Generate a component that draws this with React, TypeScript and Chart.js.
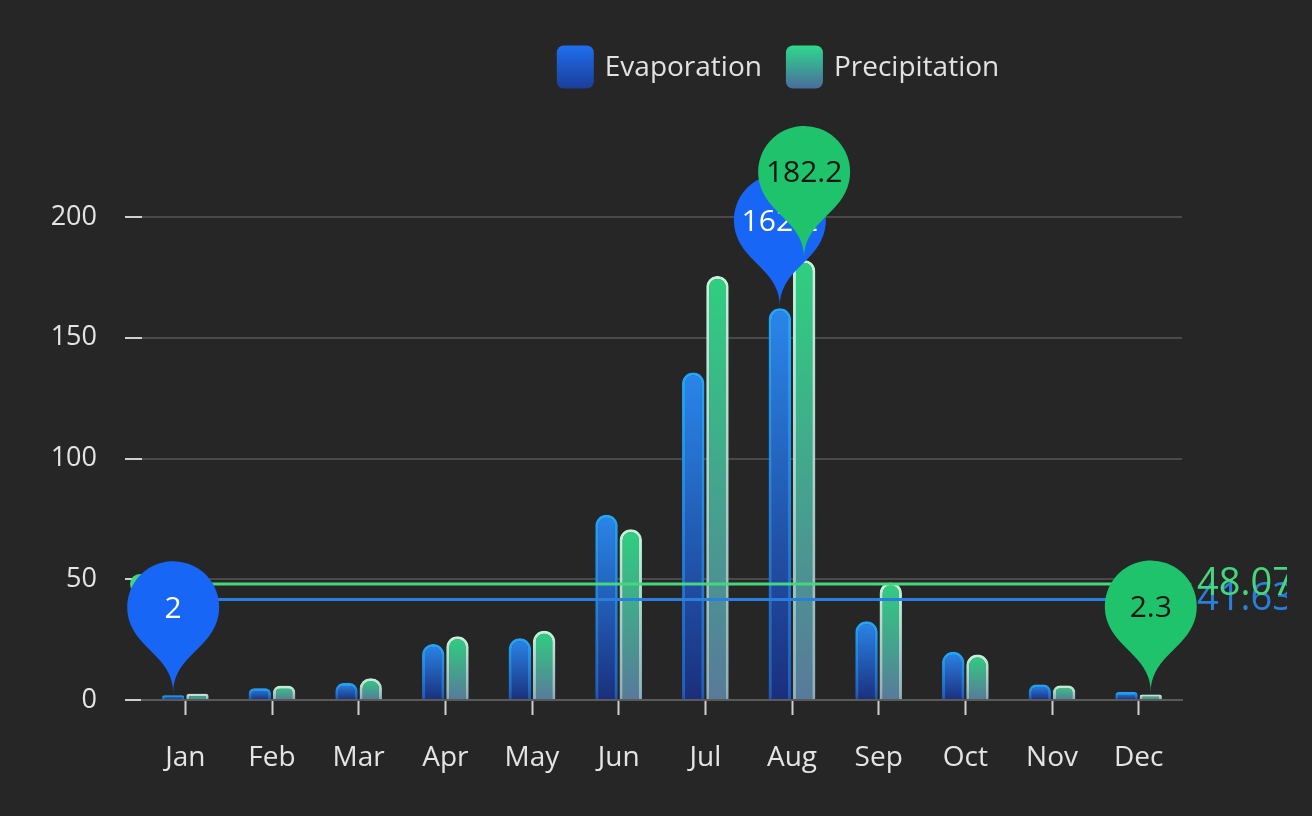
import { useEffect, useRef } from 'react';
import { Chart, registerables } from 'chart.js';

Chart.register(...registerables);

const months = ['Jan', 'Feb', 'Mar', 'Apr', 'May', 'Jun', 'Jul', 'Aug', 'Sep', 'Oct', 'Nov', 'Dec'];
const evaporation = [2.0, 4.9, 7.0, 23.2, 25.6, 76.7, 135.6, 162.2, 32.6, 20.0, 6.4, 3.3];
const precipitation = [2.6, 5.9, 9.0, 26.4, 28.7, 70.7, 175.6, 182.2, 48.7, 18.8, 6.0, 2.3];
const seriesNames = ['Evaporation', 'Precipitation'];
const yMin = 0;
const yMax = 200;
const yStep = 50;

const FONT = '"Open Sans", "Noto Sans", "DejaVu Sans", sans-serif';
const WIDTH = 1312;
const HEIGHT = 816;

type Style = {
  top: string;
  bottom: string;
  borderTop: string;
  borderBottom: string;
  glow: string;
  pin: string;
  pinText: string;
  line: string;
  legendTop: string;
  legendBottom: string;
};

const styles: Style[] = [
  {
    top: '#2a86ea',
    bottom: '#1b2f7c',
    borderTop: '#22aaf8',
    borderBottom: '#1d4aa6',
    glow: 'rgba(40,150,255,0.6)',
    pin: '#1766f5',
    pinText: '#ffffff',
    line: '#2a7fdc',
    legendTop: '#1f6ff0',
    legendBottom: '#1c3d98',
  },
  {
    top: '#2fcf80',
    bottom: '#587a9a',
    borderTop: '#c9f3dc',
    borderBottom: '#8aa0b4',
    glow: 'rgba(170,240,205,0.5)',
    pin: '#1ec36b',
    pinText: '#141414',
    line: '#45d67e',
    legendTop: '#2fd88c',
    legendBottom: '#4a6c9c',
  },
];

// Vertical gradient spanning each bar from its top to the baseline.
function barGradient(from: string, to: string) {
  return (c: any) => {
    const chart = c.chart;
    if (!chart.chartArea || c.type !== 'data' || !chart.scales?.y) return from;
    const y = chart.scales.y;
    const top = y.getPixelForValue(c.raw as number);
    const base = y.getPixelForValue(0);
    if (base - top < 1) return from;
    const g = chart.ctx.createLinearGradient(0, top, 0, base);
    g.addColorStop(0, from);
    g.addColorStop(1, to);
    return g;
  };
}

// ECharts-style "pin" marker: a circle tapering to a point at (x, tipY).
function drawPin(ctx: CanvasRenderingContext2D, x: number, tipY: number, r: number, h: number) {
  const dy = (r * r) / (h - r);
  const cy = tipY - h + r + dy;
  const angle = Math.asin(dy / r);
  const dx = Math.cos(angle) * r;
  const tanX = Math.sin(angle);
  const tanY = Math.cos(angle);
  const cpLen = r * 0.6;
  const cpLen2 = r * 0.7;
  ctx.beginPath();
  ctx.moveTo(x - dx, cy + dy);
  ctx.arc(x, cy, r, Math.PI - angle, Math.PI * 2 + angle);
  ctx.bezierCurveTo(x + dx - tanX * cpLen, cy + dy + tanY * cpLen, x, tipY - cpLen2, x, tipY);
  ctx.bezierCurveTo(x, tipY - cpLen2, x - dx + tanX * cpLen, cy + dy + tanY * cpLen, x - dx, cy + dy);
  ctx.closePath();
  ctx.fill();
  return cy;
}

const glowPlugin = {
  id: 'barGlow',
  beforeDatasetDraw(chart: any, args: any) {
    const ctx = chart.ctx;
    ctx.save();
    ctx.shadowColor = styles[args.index].glow;
    ctx.shadowBlur = 12;
  },
  afterDatasetDraw(chart: any) {
    chart.ctx.restore();
  },
};

const markPlugin = {
  id: 'marks',
  afterDatasetsDraw(chart: any) {
    const ctx: CanvasRenderingContext2D = chart.ctx;
    const area = chart.chartArea;
    const yScale = chart.scales.y;
    const seriesData = [evaporation, precipitation];

    // Average lines with start circle, end arrow and value label.
    seriesData.forEach((data, i) => {
      const s = styles[i];
      const avg = data.reduce((a, b) => a + b, 0) / data.length;
      const y = yScale.getPixelForValue(avg);
      ctx.save();
      ctx.strokeStyle = s.line;
      ctx.fillStyle = s.line;
      ctx.lineWidth = 3;
      ctx.beginPath();
      ctx.moveTo(area.left, y);
      ctx.lineTo(area.right, y);
      ctx.stroke();
      ctx.beginPath();
      ctx.arc(area.left - 2, y, 10, 0, Math.PI * 2);
      ctx.fill();
      ctx.beginPath();
      ctx.moveTo(area.right + 10, y);
      ctx.lineTo(area.right - 8, y - 8);
      ctx.lineTo(area.right - 8, y + 8);
      ctx.closePath();
      ctx.fill();
      ctx.beginPath();
      ctx.rect(0, 0, area.right + 105, chart.height);
      ctx.clip();
      ctx.font = `38px ${FONT}`;
      ctx.textAlign = 'left';
      ctx.textBaseline = 'middle';
      ctx.fillText(avg.toFixed(2), area.right + 15, y);
      ctx.restore();
    });

    // Max / min pins for each series.
    seriesData.forEach((data, i) => {
      const s = styles[i];
      const meta = chart.getDatasetMeta(i);
      const maxIdx = data.indexOf(Math.max(...data));
      const minIdx = data.indexOf(Math.min(...data));
      [maxIdx, minIdx].forEach((idx) => {
        const bar = meta.data[idx];
        ctx.save();
        ctx.fillStyle = s.pin;
        const cy = drawPin(ctx, bar.x, bar.y - 2, 46, 152);
        ctx.fillStyle = s.pinText;
        ctx.font = `30px ${FONT}`;
        ctx.textAlign = 'center';
        ctx.textBaseline = 'middle';
        ctx.fillText(String(data[idx]), bar.x, cy + 2);
        ctx.restore();
      });
    });
  },
};

const legendPlugin = {
  id: 'topLegend',
  afterDraw(chart: any) {
    const ctx: CanvasRenderingContext2D = chart.ctx;
    const boxW = 37;
    const boxH = 43;
    const textGap = 11;
    const itemGap = 24;
    const centerX = 778;
    const centerY = 67;
    ctx.save();
    ctx.font = `28px ${FONT}`;
    const widths = seriesNames.map((n) => boxW + textGap + ctx.measureText(n).width);
    const total = widths.reduce((a, b) => a + b, 0) + itemGap * (seriesNames.length - 1);
    let x = centerX - total / 2;
    seriesNames.forEach((name, i) => {
      const s = styles[i];
      const top = centerY - boxH / 2;
      const g = ctx.createLinearGradient(0, top, 0, top + boxH);
      g.addColorStop(0, s.legendTop);
      g.addColorStop(1, s.legendBottom);
      ctx.fillStyle = g;
      ctx.beginPath();
      ctx.roundRect(x, top, boxW, boxH, 7);
      ctx.fill();
      ctx.fillStyle = '#e2e2e2';
      ctx.textAlign = 'left';
      ctx.textBaseline = 'middle';
      ctx.fillText(name, x + boxW + textGap, centerY + 1);
      x += widths[i] + itemGap;
    });
    ctx.restore();
  },
};

export default function App() {
  const canvasRef = useRef<HTMLCanvasElement | null>(null);

  useEffect(() => {
    if (!canvasRef.current) return;
    const chart = new Chart(canvasRef.current, {
      type: 'bar',
      data: {
        labels: months,
        datasets: [evaporation, precipitation].map((data, i) => ({
          label: seriesNames[i],
          data,
          backgroundColor: barGradient(styles[i].top, styles[i].bottom),
          borderColor: barGradient(styles[i].borderTop, styles[i].borderBottom),
          borderWidth: 3,
          borderSkipped: 'bottom',
          borderRadius: { topLeft: 11, topRight: 11, bottomLeft: 0, bottomRight: 0 },
          categoryPercentage: 0.56,
          barPercentage: 0.92,
        })),
      },
      options: {
        responsive: false,
        animation: false,
        layout: { padding: { top: 217, right: 130, left: 0, bottom: 0 } },
        plugins: {
          legend: { display: false },
          tooltip: { enabled: false },
        },
        scales: {
          x: {
            afterFit: (scale: any) => {
              scale.height = 116;
            },
            grid: {
              offset: false,
              drawOnChartArea: false,
              drawTicks: true,
              tickLength: 15,
              tickColor: '#cfcfcf',
              tickWidth: 2,
            },
            border: { display: true, color: '#5a5a5a', width: 2 },
            ticks: {
              color: '#e4e4e4',
              padding: 26,
              font: { family: FONT, size: 28 },
            },
          },
          y: {
            min: yMin,
            max: yMax,
            afterFit: (scale: any) => {
              scale.width = 142;
            },
            grid: {
              color: '#4a4a4a',
              lineWidth: 2,
              drawTicks: true,
              tickLength: 17,
              tickColor: '#cfcfcf',
              tickWidth: 2,
            },
            border: { display: false },
            ticks: {
              stepSize: yStep,
              color: '#e4e4e4',
              padding: 28,
              font: { family: FONT, size: 27 },
            },
          },
        },
      },
      plugins: [glowPlugin, markPlugin, legendPlugin],
    });
    return () => chart.destroy();
  }, []);

  return (
    <div
      style={{
        position: 'fixed',
        left: 0,
        top: 0,
        width: WIDTH,
        height: HEIGHT,
        background: '#262626',
      }}
    >
      <canvas ref={canvasRef} width={WIDTH} height={HEIGHT} style={{ display: 'block' }} />
    </div>
  );
}
